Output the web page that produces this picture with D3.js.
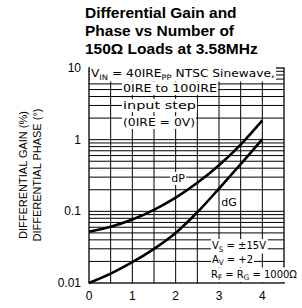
<!DOCTYPE html>
<html><head><meta charset="utf-8">
<script src="https://cdn.jsdelivr.net/npm/d3@7"></script>
<style>body{margin:0;background:#fff}svg{display:block}</style>
</head><body>
<script>
const loads = [0, 0.5, 1, 1.5, 2, 2.5, 3, 3.5, 4];
const dPhase = [0.052, 0.061, 0.077, 0.105, 0.155, 0.25, 0.44, 0.855, 1.86];
const dGain = [0.010, 0.0135, 0.0195, 0.030, 0.050, 0.097, 0.208, 0.455, 1.02];
const xTicks = [0, 1, 2, 3, 4];
const yTicks = [0.01, 0.1, 1, 10];
const yTickLabels = ["0.01", "0.1", "1", "10"];
const titleLines = ["Differential Gain and", "Phase vs Number of", "150\u03A9 Loads at 3.58MHz"];
const yTitleLines = ["DIFFERENTIAL GAIN (%)", "DIFFERENTIAL PHASE (\u00B0)"];

const W = 302, H = 308;
const svg = d3.select("body").append("svg").attr("width", W).attr("height", H);
const x = d3.scaleLinear().domain([0, 4.5]).range([89, 284]);
const y = d3.scaleLog().domain([0.01, 10]).range([283, 68]);
const AF = "'DejaVu Sans', sans-serif";

// title
svg.append("g").selectAll("text").data(titleLines).join("text")
  .attr("x", 85).attr("y", (d, i) => 18 + i * 18)
  .attr("font-family", "'Liberation Sans', Arial, sans-serif").attr("font-weight", "bold")
  .attr("font-size", 15.5).text(d => d);

// grid
const g = svg.append("g");
const vgrid = d3.range(0.5, 4.5, 0.5);
g.selectAll(".vg").data(vgrid).join("line")
  .attr("x1", d => x(d)).attr("x2", d => x(d)).attr("y1", y(10)).attr("y2", y(0.01))
  .attr("stroke", "#000").attr("stroke-width", 1);
const hgrid = [];
[0.01, 0.1, 1].forEach(dec => { for (let k = 1; k <= 9; k++) hgrid.push(dec * k); });
g.selectAll(".hg").data(hgrid.filter(v => v > 0.0100001)).join("line")
  .attr("x1", x(0)).attr("x2", x(4.5)).attr("y1", d => y(d)).attr("y2", d => y(d))
  .attr("stroke", "#000").attr("stroke-width", 1);
svg.append("rect").attr("x", x(0)).attr("y", y(10)).attr("width", x(4.5) - x(0)).attr("height", y(0.01) - y(10))
  .attr("fill", "none").attr("stroke", "#000").attr("stroke-width", 1.3);

// curves
const line = d3.line().x((d, i) => x(loads[i])).y(d => y(d)).curve(d3.curveCatmullRom.alpha(0.5));
[dPhase, dGain].forEach(s => {
  svg.append("path").attr("d", line(s)).attr("fill", "none").attr("stroke", "#000").attr("stroke-width", 2.6);
});

// annotation helper with white background
function note(segs, xx, yy, len, anchor, fs) {
  const grp = svg.append("g");
  const t = grp.append("text").attr("x", xx).attr("y", yy).attr("font-family", AF).attr("font-size", fs || 11)
    .attr("text-anchor", anchor || "start");
  segs.forEach(s => {
    if (s.sub) t.append("tspan").attr("font-size", 7.5).attr("dy", 2.5).text(s.t);
    else t.append("tspan").attr("dy", s.after ? -2.5 : 0).text(s.t);
  });
  if (len) t.attr("textLength", len).attr("lengthAdjust", "spacingAndGlyphs");
  const b = t.node().getBBox();
  grp.insert("rect", "text").attr("x", b.x - 1).attr("y", b.y).attr("width", b.width + 2).attr("height", b.height)
    .attr("fill", "#fff");
  return t;
}
note([{t: "V"}, {t: "IN", sub: 1}, {t: " = 40IRE", after: 1}, {t: "PP", sub: 1}, {t: " NTSC Sinewave,", after: 1}], 91, 77, 184);
note([{t: "0IRE to 100IRE"}], 123, 92, 94);
note([{t: "input step"}], 123, 109, 73);
note([{t: "(0IRE = 0V)"}], 123, 126, 72);
note([{t: "dP"}], 178, 182, 0, "middle");
note([{t: "dG"}], 229, 206, 0, "middle");
note([{t: "V"}, {t: "S", sub: 1}, {t: " = \u00B115V", after: 1}], 212, 249, 54, "start", 10.5);
note([{t: "A"}, {t: "V", sub: 1}, {t: " = +2", after: 1}], 212, 262.5, 41, "start", 10.5);
note([{t: "R"}, {t: "F", sub: 1}, {t: " = R", after: 1}, {t: "G", sub: 1}, {t: " = 1000\u03A9", after: 1}], 211, 277.5, 86, "start", 10.5);

// tick labels
const TF = "'Liberation Sans', Arial, sans-serif";
svg.append("g").selectAll("text").data(yTicks).join("text")
  .attr("x", 81).attr("y", d => y(d) + 4).attr("text-anchor", "end")
  .attr("font-family", TF).attr("font-size", 12).text((d, i) => yTickLabels[i]);
svg.append("g").selectAll("text").data(xTicks).join("text")
  .attr("x", d => x(d)).attr("y", 300).attr("text-anchor", "middle")
  .attr("font-family", TF).attr("font-size", 12).text(d => d);

// y title
svg.append("g").selectAll("text").data(yTitleLines).join("text")
  .attr("transform", (d, i) => `translate(${27 + i * 14},175) rotate(-90)`)
  .attr("text-anchor", "middle").attr("font-family", TF).attr("font-size", 11).text(d => d);
</script>
</body></html>
